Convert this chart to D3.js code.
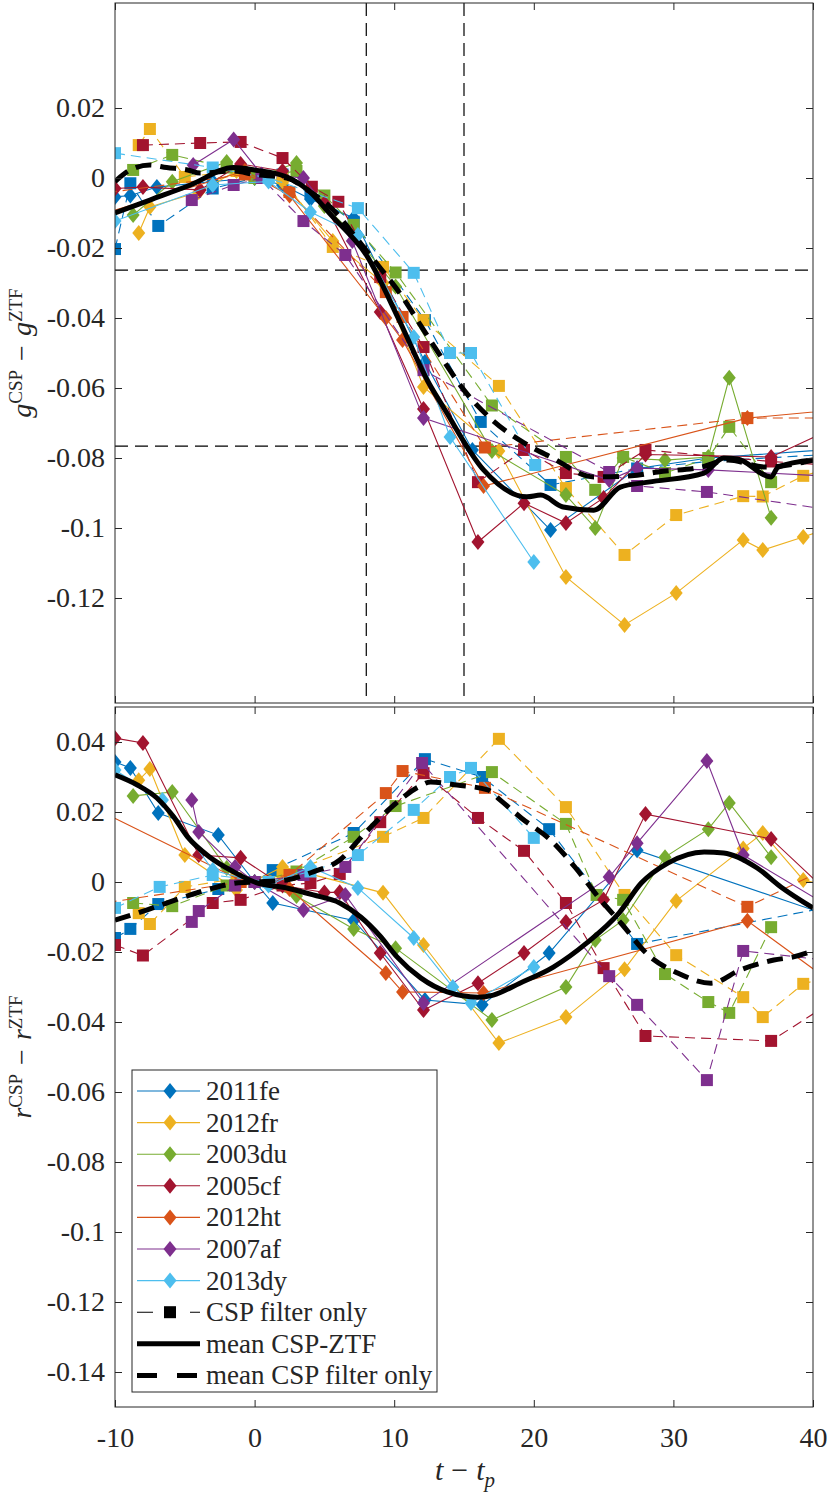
<!DOCTYPE html>
<html>
<head>
<meta charset="utf-8">
<script src="https://cdn.jsdelivr.net/npm/d3@7"></script>
<style>
	body { margin: 0; background: #fff; }
	svg text { font-family: "Liberation Serif", "Times New Roman", serif; fill: #262626; }
</style>
</head>
<body>
<svg id="chart" width="830" height="1492"></svg>
<script>
'use strict';

/***************************************
 * DATA  ([t - tp, magnitude difference])
 ***************************************/

var SN_NAMES = ['2011fe','2012fr','2003du','2005cf','2012ht','2007af','2013dy'];
var SN_COLORS = ['#0072BD','#EDB120','#77AC30','#A2142F','#D95319','#7E2F8E','#4DBEEE'];

var X_TICKS = [-10,0,10,20,30,40];
var G_TICKS = [-0.12,-0.1,-0.08,-0.06,-0.04,-0.02,0,0.02];
var R_TICKS = [-0.14,-0.12,-0.1,-0.08,-0.06,-0.04,-0.02,0,0.02,0.04];

//reference lines of the g panel
var G_REF_T = [8,15];
var G_REF_V = [-0.0263,-0.0766];

//g band, CSP-ZTF (solid, diamonds) and CSP filter only (dashed, squares)
var fe11_g = [[-10,-0.0054],[-8.9,-0.005],[-7,-0.0026],[-3,-0.001],[0,0],[2,-0.002],[4,-0.006],[7.1,-0.0114],[12.2,-0.0526],[15.6,-0.0777],[21.2,-0.1006],[27.4,-0.083],[32.5,-0.080],[45,-0.0765]];
var fe11_g_csp = [[-10,-0.0203],[-8.9,-0.0015],[-6.9,-0.0137],[-3,-0.003],[0,0],[2,0.001],[4,-0.004],[7.1,-0.0125],[12.2,-0.0406],[16.2,-0.0697],[21.2,-0.0877],[27.4,-0.083],[32.5,-0.081],[45,-0.078]];
var fr12_g = [[-8.3,-0.0157],[-7.5,-0.0083],[-4,-0.004],[-1.3,0.002],[2,-0.001],[5.6,-0.018],[9.2,-0.03],[12.1,-0.0597],[17.5,-0.078],[22.3,-0.114],[26.5,-0.1277],[30.2,-0.1186],[35,-0.1034],[36.4,-0.1063],[39.3,-0.1026],[44,-0.096]];
var fr12_g_csp = [[-8.3,0.0094],[-7.5,0.014],[-5,0.0003],[-1.3,0.002],[2,0],[5.6,-0.0197],[9.2,-0.0254],[12.1,-0.0406],[17.5,-0.0594],[22.3,-0.0886],[26.5,-0.1077],[30.2,-0.0963],[35,-0.0909],[36.4,-0.091],[39.3,-0.0851],[44,-0.08]];
var du03_g = [[-8.7,-0.0106],[-5.9,-0.0011],[-2,0.0046],[0,0],[3,0.0043],[5,-0.008],[7.1,-0.016],[10.1,-0.031],[17,-0.078],[22.3,-0.0906],[24.4,-0.1],[26.4,-0.08],[29.4,-0.0806],[32.5,-0.0797],[34,-0.0571],[37,-0.0971]];
var du03_g_csp = [[-8.7,0.0023],[-5.9,0.0066],[-2,0.003],[0,0],[3,0.002],[5,-0.005],[7.1,-0.0134],[10.1,-0.027],[17,-0.065],[22.3,-0.0797],[24.4,-0.0891],[26.4,-0.0797],[29.4,-0.0843],[32.5,-0.080],[34,-0.0711],[37,-0.0869]];
var cf05_g = [[-10,-0.003],[-8,-0.0026],[-3.9,-0.0034],[-1,0.004],[2,0.002],[5,-0.0072],[9,-0.0383],[12.1,-0.066],[16,-0.104],[19.3,-0.0929],[22.3,-0.0986],[25,-0.0914],[28,-0.079],[37,-0.0797],[45,-0.065]];
var cf05_g_csp = [[-8,0.0094],[-3.9,0.01],[-1,0.0103],[2,0.0057],[4.1,-0.0025],[6,-0.0068],[9,-0.0283],[12.1,-0.0483],[16,-0.0869],[19.3,-0.0777],[22.3,-0.0843],[25,-0.0854],[28,-0.0777],[37,-0.081],[45,-0.083]];
var ht12_g = [[-14,-0.014],[-0.7,0.002],[2.5,-0.005],[9.4,-0.04],[10.6,-0.0463],[16.4,-0.088],[35.3,-0.0686],[45,-0.065]];
var ht12_g_csp = [[-14,-0.006],[-0.7,0.001],[2.5,-0.004],[9.4,-0.0326],[10.6,-0.0397],[16.5,-0.077],[35.3,-0.0686],[45,-0.0685]];
var af07_g = [[-4.4,0.0037],[-1.5,0.011],[0.5,0.001],[3.5,0],[7,-0.018],[12.1,-0.0686],[25.4,-0.0863],[27.4,-0.0829],[32.5,-0.0834],[45,-0.086]];
var af07_g_csp = [[-4.5,-0.0063],[-1.5,-0.002],[0.5,0],[3.5,-0.0123],[6.5,-0.022],[12.1,-0.0549],[25.4,-0.084],[27.4,-0.088],[32.4,-0.0897],[45,-0.097]];
var dy13_g = [[-10,-0.0123],[-3,-0.002],[1,-0.001],[4,-0.0097],[7.4,-0.0163],[11.4,-0.0454],[14,-0.074],[20,-0.1097]];
var dy13_g_csp = [[-10,0.0071],[-3,0.003],[1,0],[7.4,-0.0086],[11.4,-0.0271],[14,-0.05],[15.5,-0.05],[20.1,-0.082]];

var meanG_ztf = [[-10,-0.01],[-7.5,-0.0063],[-4.6,-0.002],[-1.5,0.003],[0,0.0023],[2.3,0.0003],[3.8,-0.0034],[5.6,-0.0111],[8,-0.022],[10.4,-0.041],[12.4,-0.058],[13.6,-0.066],[16.4,-0.0834],[19.5,-0.0911],[20.5,-0.0906],[22.1,-0.094],[24.3,-0.0949],[26.2,-0.0883],[28.2,-0.0869],[32.2,-0.0843],[33.6,-0.080],[34.6,-0.0803],[37,-0.0854],[37.5,-0.0826],[40,-0.0806]];
var meanG_csp = [[-10,-0.001],[-8.9,0.0023],[-7.5,0.0037],[-6.3,0.003],[-4.8,0.0023],[-3.9,0.0014],[-1.5,0.002],[0,0.001],[2.3,0],[4,-0.004],[5.6,-0.009],[7.4,-0.0177],[9,-0.0257],[10.4,-0.0329],[12.1,-0.0434],[13.5,-0.052],[15,-0.0606],[16.9,-0.0687],[19.3,-0.0757],[21.2,-0.0797],[24.3,-0.0854],[27,-0.0851],[28.9,-0.084],[32,-0.0826],[33.9,-0.0806],[36.6,-0.0826],[40,-0.0806]];

//r band
var fe11_r = [[-10,0.0343],[-8.9,0.0326],[-6.9,0.0197],[-2.6,0.0134],[0,0],[1.3,-0.006],[7.1,-0.011],[12.2,-0.0337],[16.3,-0.0351],[21.1,-0.0203],[27.4,0.0091],[45,-0.0148]];
var fe11_r_csp = [[-10,-0.016],[-8.9,-0.0134],[-6.9,-0.0063],[-2.6,-0.002],[0,0],[1.3,0.0034],[7.1,0.014],[12.2,0.0351],[16.3,0.03],[21.1,0.0151],[27.4,-0.0177],[45,-0.0042]];
var fr12_r = [[-8.3,0.0291],[-7.5,0.0323],[-5,0.0077],[-1.3,-0.0023],[2,0.0043],[9.2,-0.0031],[12.1,-0.018],[17.5,-0.046],[22.3,-0.0386],[26.5,-0.0249],[30.2,-0.0054],[35,0.0096],[36.4,0.014],[39.3,0.0006],[44,-0.004]];
var fr12_r_csp = [[-8.3,-0.0089],[-7.5,-0.012],[-5,-0.0014],[-1.3,0.001],[2,0.002],[9.2,0.0129],[12.1,0.0183],[17.5,0.0409],[22.3,0.0214],[26.5,-0.0037],[30.2,-0.0209],[35,-0.0329],[36.4,-0.0386],[39.3,-0.0291],[44,-0.024]];
var du03_r = [[-8.7,0.0246],[-5.9,0.0257],[-2,0.004],[0,0],[3,-0.004],[7.1,-0.0134],[10.1,-0.0189],[17,-0.0394],[22.3,-0.03],[24.4,-0.0166],[26.4,-0.0109],[29.4,0.0071],[32.5,0.0151],[34,0.0226],[37,0.0071]];
var du03_r_csp = [[-8.7,-0.006],[-5.9,-0.0069],[-2,-0.001],[0,0],[3,0.003],[7.1,0.0129],[10.1,0.0217],[17,0.0314],[22.3,0.0166],[24.5,-0.0037],[26.4,-0.0051],[29.4,-0.0263],[32.5,-0.0343],[34,-0.0374],[37,-0.0129]];
var cf05_r = [[-10,0.0411],[-8,0.0397],[-4,0.0077],[-1,0.0069],[2,-0.001],[5,-0.003],[6.1,-0.0029],[9,-0.0203],[12.1,-0.0366],[16,-0.0289],[19.3,-0.0203],[22.3,-0.0114],[25,-0.0051],[28,0.0194],[37,0.0123],[42,-0.0064]];
var cf05_r_csp = [[-10,-0.018],[-8,-0.021],[-3,-0.006],[-1,-0.0051],[2,-0.001],[4,-0.0003],[6.1,0.0023],[9,0.0171],[12.1,0.0311],[16,0.0183],[19.3,0.0089],[22.3,-0.006],[25,-0.0246],[28,-0.044],[37,-0.0454],[42,-0.0326]];
var ht12_r = [[-14,0.026],[-1,0.0005],[2.5,-0.002],[9.4,-0.026],[10.6,-0.0314],[16.4,-0.0317],[35.3,-0.0111],[42,-0.0306]];
var ht12_r_csp = [[-14,-0.008],[-1,0],[2.5,0.002],[9.4,0.0254],[10.6,0.0317],[16.5,0.0269],[35.3,-0.0071],[42,0.0059]];
var af07_r = [[-4.5,0.0234],[-4,0.0143],[-1.4,0.0043],[0,0],[3.5,-0.008],[6.5,-0.0037],[12.1,-0.0346],[25.4,0.0014],[27.4,0.0111],[32.4,0.0346],[35,0.0077],[42,-0.009]];
var af07_r_csp = [[-4.5,-0.0114],[-4,-0.0083],[-1.4,-0.001],[0,0],[3.5,0.002],[6.5,0.0043],[12,0.034],[25.4,-0.0269],[27.4,-0.0351],[32.4,-0.0566],[35,-0.0197],[42,-0.0228]];
var dy13_r = [[-10,0.032],[-6.6,0.0234],[-3,0.0034],[1,-0.001],[4,0.0043],[7.4,-0.0017],[11.4,-0.016],[14.2,-0.03],[15.5,-0.0346],[20,-0.0243]];
var dy13_r_csp = [[-10,-0.0074],[-6.8,-0.0014],[-3,0.002],[1,0],[4,0.003],[7.4,0.0077],[11.4,0.0206],[14,0.03],[15.5,0.0326],[20,0.0126]];

var meanR_ztf = [[-10,0.0306],[-8.4,0.0277],[-7,0.024],[-5.8,0.0186],[-4.8,0.0129],[-3.2,0.0071],[-1.5,0.0029],[0,0],[2.3,-0.0017],[4.2,-0.0037],[6.1,-0.006],[7.6,-0.01],[9,-0.0155],[10.2,-0.0214],[11.9,-0.0274],[13.8,-0.0314],[16,-0.0329],[17.1,-0.0323],[19,-0.0289],[21.4,-0.0243],[23.8,-0.0174],[26.1,-0.0089],[27.7,-0.0003],[29.6,0.0054],[32.2,0.0086],[33.6,0.0083],[36,0.004],[37.7,-0.0014],[40,-0.0074]];
var meanR_csp = [[-10,-0.0109],[-8.4,-0.0089],[-7.3,-0.0074],[-4.6,-0.0037],[-3.2,-0.002],[-1.3,-0.0003],[0,0],[2.3,0.0006],[4.2,0.0029],[6.1,0.0063],[7.8,0.0135],[9.7,0.021],[11.7,0.0271],[12.6,0.0286],[14.5,0.0277],[16.7,0.0263],[17.6,0.0234],[19.1,0.0183],[21.2,0.012],[23,0.004],[24.7,-0.0047],[26.3,-0.012],[28.2,-0.0209],[30.3,-0.026],[32.7,-0.0289],[34.8,-0.0251],[37.2,-0.0223],[38.6,-0.0214],[40,-0.0197]];

var G_ZTF = [fe11_g, fr12_g, du03_g, cf05_g, ht12_g, af07_g, dy13_g];
var G_CSP = [fe11_g_csp, fr12_g_csp, du03_g_csp, cf05_g_csp, ht12_g_csp, af07_g_csp, dy13_g_csp];
var R_ZTF = [fe11_r, fr12_r, du03_r, cf05_r, ht12_r, af07_r, dy13_r];
var R_CSP = [fe11_r_csp, fr12_r_csp, du03_r_csp, cf05_r_csp, ht12_r_csp, af07_r_csp, dy13_r_csp];

/***************************************
 * SIZING / SCALES
 ***************************************/

var AXIS_COLOR = '#262626';
var TICK_LEN = 7;

var x = d3.scaleLinear().domain([-10,40]).range([115,813]);
var yTop = d3.scaleLinear().domain([-0.15,0.05]).range([703,3]);
var yBot = d3.scaleLinear().domain([-0.15,0.05]).range([1407,707]);

var DIAMOND = 'M0,-8L6.5,0L0,8L-6.5,0Z';
var SQUARE = 'M-6,-6H6V6H-6Z';

var svg = d3.select('#chart');
var defs = svg.append('defs');

function fmtTick(d) {
	return d === 0 ? '0' : String(+d.toFixed(2));
}

/***************************************
 * PANELS
 ***************************************/

function drawPanel(y, ztfList, cspList, meanZtf, meanCsp, clipId, isBottom) {
	var x0 = x.range()[0], x1 = x.range()[1];
	var yr = y.range();
	defs.append('clipPath').attr('id',clipId)
		.append('rect')
			.attr('x',x0).attr('y',yr[1])
			.attr('width',x1-x0).attr('height',yr[0]-yr[1]);

	var g = svg.append('g').attr('clip-path','url(#'+clipId+')');
	var line = d3.line().x(function(d){return x(d[0]);}).y(function(d){return y(d[1]);});
	var smooth = d3.line().curve(d3.curveMonotoneX)
		.x(function(d){return x(d[0]);}).y(function(d){return y(d[1]);});

	//reference lines (g panel only)
	if (!isBottom) {
		g.selectAll('line.vref').data(G_REF_T).enter().append('line')
			.attr('x1',function(d){return x(d);}).attr('x2',function(d){return x(d);})
			.attr('y1',yr[1]).attr('y2',yr[0])
			.attr('stroke','#000').attr('stroke-width',1.2).attr('stroke-dasharray','13,7');
		g.selectAll('line.href').data(G_REF_V).enter().append('line')
			.attr('x1',x0).attr('x2',x1)
			.attr('y1',function(d){return y(d);}).attr('y2',function(d){return y(d);})
			.attr('stroke','#000').attr('stroke-width',1.2).attr('stroke-dasharray','13,7');
	}

	//each supernova: CSP-ZTF solid + diamonds, then CSP only dashed + squares
	SN_NAMES.forEach(function(name,i) {
		var col = SN_COLORS[i];
		var sg = g.append('g').attr('class','sn sn'+name);
		sg.append('path').attr('d',line(ztfList[i]))
			.attr('fill','none').attr('stroke',col).attr('stroke-width',1.1);
		sg.selectAll('path.dia').data(ztfList[i]).enter().append('path')
			.attr('class','dia').attr('d',DIAMOND).attr('fill',col)
			.attr('transform',function(d){return 'translate('+x(d[0])+','+y(d[1])+')';});
		sg.append('path').attr('d',line(cspList[i]))
			.attr('fill','none').attr('stroke',col).attr('stroke-width',1.1)
			.attr('stroke-dasharray','10,6');
		sg.selectAll('path.sq').data(cspList[i]).enter().append('path')
			.attr('class','sq').attr('d',SQUARE).attr('fill',col)
			.attr('transform',function(d){return 'translate('+x(d[0])+','+y(d[1])+')';});
	});

	//means
	g.append('path').attr('d',smooth(meanZtf))
		.attr('fill','none').attr('stroke','#000').attr('stroke-width',5);
	g.append('path').attr('d',smooth(meanCsp))
		.attr('fill','none').attr('stroke','#000').attr('stroke-width',5)
		.attr('stroke-dasharray','16,9');

	//axes (inward ticks on all four sides, MATLAB box)
	var ticks = isBottom ? R_TICKS : G_TICKS;
	var ax = svg.append('g').attr('class','axes');
	ax.append('rect')
		.attr('x',x0).attr('y',yr[1]).attr('width',x1-x0).attr('height',yr[0]-yr[1])
		.attr('fill','none').attr('stroke',AXIS_COLOR).attr('stroke-width',1);

	ax.append('g').attr('transform','translate('+x0+',0)')
		.call(d3.axisLeft(y).tickValues(ticks).tickFormat(fmtTick)
			.tickSize(-TICK_LEN).tickPadding(10));
	ax.append('g').attr('transform','translate('+x1+',0)')
		.call(d3.axisRight(y).tickValues(ticks).tickFormat('')
			.tickSize(-TICK_LEN));
	ax.append('g').attr('transform','translate(0,'+yr[0]+')')
		.call(d3.axisBottom(x).tickValues(X_TICKS).tickFormat(isBottom ? fmtTick : '')
			.tickSize(-TICK_LEN).tickPadding(20));
	ax.append('g').attr('transform','translate(0,'+yr[1]+')')
		.call(d3.axisTop(x).tickValues(X_TICKS).tickFormat('')
			.tickSize(-TICK_LEN));

	ax.selectAll('.domain').remove();
	ax.selectAll('.tick line').attr('stroke',AXIS_COLOR);
	ax.selectAll('.tick text')
		.attr('font-family','"Liberation Serif", "Times New Roman", serif')
		.attr('font-size',28).attr('fill',AXIS_COLOR);
}

drawPanel(yTop, G_ZTF, G_CSP, meanG_ztf, meanG_csp, 'clipTop', false);
drawPanel(yBot, R_ZTF, R_CSP, meanR_ztf, meanR_csp, 'clipBot', true);

/***************************************
 * AXIS LABELS
 ***************************************/

function yLabel(letter, cy) {
	var t = svg.append('text')
		.attr('text-anchor','middle').attr('font-size',28)
		.attr('transform','translate(31,'+cy+') rotate(-90)');
	t.append('tspan').attr('font-style','italic').text(letter);
	t.append('tspan').attr('font-size',19).attr('dy',-9).text('CSP');
	t.append('tspan').attr('dx',9).attr('dy',9).text('\u2212');
	t.append('tspan').attr('dx',9).attr('font-style','italic').text(letter);
	t.append('tspan').attr('font-size',19).attr('dy',-9).text('ZTF');
}
yLabel('g',353);
yLabel('r',1057);

var xl = svg.append('text').attr('text-anchor','middle').attr('font-size',30)
	.attr('transform','translate(465,1480)');
xl.append('tspan').attr('font-style','italic').text('t');
xl.append('tspan').attr('dx',8).text('\u2212');
xl.append('tspan').attr('dx',8).attr('font-style','italic').text('t');
xl.append('tspan').attr('font-size',21).attr('dy',7).attr('font-style','italic').text('p');

/***************************************
 * LEGEND
 ***************************************/

var LEG_X = 132, LEG_Y = 1070, LEG_W = 305, LEG_H = 322;
var ROW0 = 1091, ROW_H = 31.6;
var legend = svg.append('g').attr('class','legend');
legend.append('rect')
	.attr('x',LEG_X).attr('y',LEG_Y).attr('width',LEG_W).attr('height',LEG_H)
	.attr('fill','#fff').attr('stroke',AXIS_COLOR).attr('stroke-width',1);

var legItems = SN_NAMES.map(function(n,i){
	return {label:n, color:SN_COLORS[i], width:1.1, dash:null, marker:DIAMOND};
});
legItems.push({label:'CSP filter only', color:'#000', width:1.1, dash:'16,11,12,14,10', marker:SQUARE});
legItems.push({label:'mean CSP-ZTF', color:'#000', width:5, dash:null, marker:null});
legItems.push({label:'mean CSP filter only', color:'#000', width:5, dash:'20,20', marker:null});

legItems.forEach(function(it,i) {
	var ry = ROW0 + i*ROW_H;
	var row = legend.append('g');
	row.append('line')
		.attr('x1',137).attr('x2',200).attr('y1',ry).attr('y2',ry)
		.attr('stroke',it.color).attr('stroke-width',it.width)
		.attr('stroke-dasharray',it.dash);
	if (it.marker)
		row.append('path').attr('d',it.marker).attr('fill',it.color)
			.attr('transform','translate(170,'+ry+')');
	row.append('text').attr('x',206).attr('y',ry).attr('dy','0.33em')
		.attr('font-size',27).attr('fill','#000').text(it.label);
});
</script>
</body>
</html>
